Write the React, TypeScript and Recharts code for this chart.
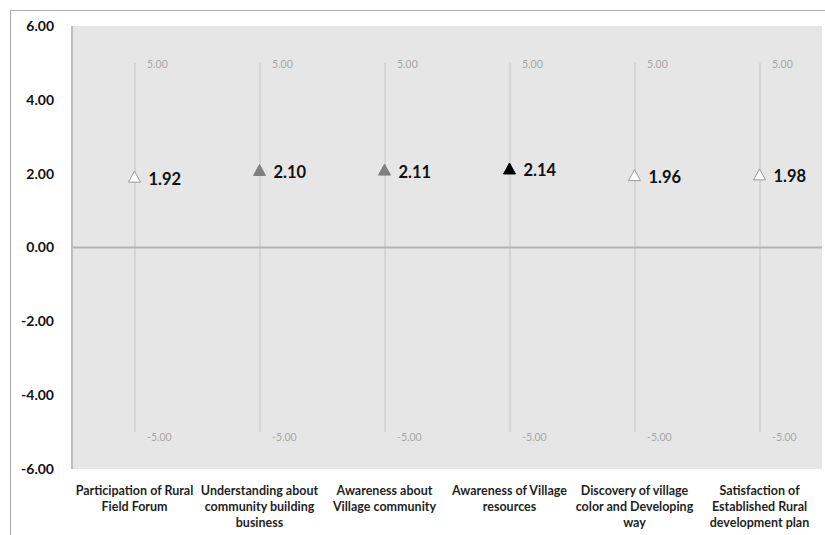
import React from 'react';
import {
  ComposedChart,
  Bar,
  Line,
  XAxis,
  YAxis,
  CartesianGrid,
  ReferenceLine,
} from 'recharts';

const categories = [
  'Participation of Rural|Field Forum',
  'Understanding about|community building|business',
  'Awareness about|Village community',
  'Awareness of Village|resources',
  'Discovery of village|color and Developing|way',
  'Satisfaction of|Established Rural|development plan',
];
const scores = [1.92, 2.1, 2.11, 2.14, 1.96, 1.98];
const highs = [5, 5, 5, 5, 5, 5];
const lows = [-5, -5, -5, -5, -5, -5];
const markerFills = ['#ffffff', '#808080', '#808080', '#000000', '#ffffff', '#ffffff'];
const yTicks = [-6, -4, -2, 0, 2, 4, 6];

const data = categories.map((name, i) => ({
  name,
  score: scores[i],
  range: [lows[i], highs[i]],
  high: highs[i],
  low: lows[i],
  fill: markerFills[i],
}));

const FONT = 'Lato, "Open Sans", sans-serif';

function RangeLine(props: any) {
  const { x, y, width, height, payload } = props;
  const cx = x + width / 2;
  return (
    <g>
      <line x1={cx} x2={cx} y1={y} y2={y + height} stroke="#c4c4c4" strokeWidth={1} />
      <text x={cx + 12} y={y + 5} fontSize={10.5} fill="#a6a6a6" fontFamily={FONT}>
        {payload.high.toFixed(2)}
      </text>
      <text x={cx + 12} y={y + height + 9} fontSize={10.5} fill="#a6a6a6" fontFamily={FONT}>
        {payload.low.toFixed(2)}
      </text>
    </g>
  );
}

function Marker(props: any) {
  const { cx, cy, payload } = props;
  if (cx == null || cy == null) return null;
  const h = 11;
  const w = 12;
  const pts = `${cx},${cy - h / 2} ${cx - w / 2},${cy + h / 2} ${cx + w / 2},${cy + h / 2}`;
  return (
    <g>
      <polygon
        points={pts}
        fill={payload.fill}
        stroke={payload.fill === '#ffffff' ? '#9a9a9a' : payload.fill}
        strokeWidth={1}
      />
      <text
        x={cx + 14}
        y={cy + 8}
        fontSize={16.5}
        fontWeight="bold"
        fill="#111"
        fontFamily={FONT}
      >
        {payload.score.toFixed(2)}
      </text>
    </g>
  );
}

function CategoryTick(props: any) {
  const { x, y, payload } = props;
  const lines = String(payload.value).split('|');
  return (
    <text
      x={x}
      y={y}
      textAnchor="middle"
      fontSize={12.5}
      fontWeight="bold"
      fill="#1f1f1f"
      fontFamily={FONT}
    >
      {lines.map((l, i) => (
        <tspan key={i} x={x} dy={i === 0 ? 18 : 16}>
          {l}
        </tspan>
      ))}
    </text>
  );
}

export default function App() {
  return (
    <div
      style={{
        position: 'absolute',
        left: 0,
        top: 0,
        width: 825,
        height: 535,
        background: '#fff',
        overflow: 'hidden',
      }}
    >
      <div
        style={{
          position: 'absolute',
          left: 10,
          top: 10,
          width: 830,
          height: 540,
          borderTop: '1.5px solid #a8a8a8',
          borderLeft: '1.5px solid #a8a8a8',
        }}
      />
      <div style={{ position: 'absolute', left: 0, top: 0 }}>
        <ComposedChart
          width={825}
          height={535}
          data={data}
          margin={{ top: 26, right: 3, bottom: 0, left: 12 }}
        >
          <CartesianGrid horizontal={false} vertical={false} fill="#e6e6e6" stroke="none" />
          <XAxis
            dataKey="name"
            axisLine={false}
            tickLine={false}
            interval={0}
            tick={<CategoryTick />}
            height={66}
          />
          <YAxis
            type="number"
            domain={[-6, 6]}
            ticks={yTicks}
            width={60}
            tickLine={false}
            tickSize={0}
            tickMargin={18}
            axisLine={{ stroke: '#bdbdbd', strokeWidth: 2 }}
            tickFormatter={(v: number) => v.toFixed(2)}
            tick={{ fontSize: 14, fontWeight: 'bold', fill: '#111', fontFamily: FONT }}
          />
          <ReferenceLine y={0} stroke="#b3b3b3" strokeWidth={2} />
          <Bar dataKey="range" shape={<RangeLine />} isAnimationActive={false} barSize={20} />
          <Line
            dataKey="score"
            stroke="none"
            dot={<Marker />}
            activeDot={false}
            isAnimationActive={false}
          />
        </ComposedChart>
      </div>
    </div>
  );
}
